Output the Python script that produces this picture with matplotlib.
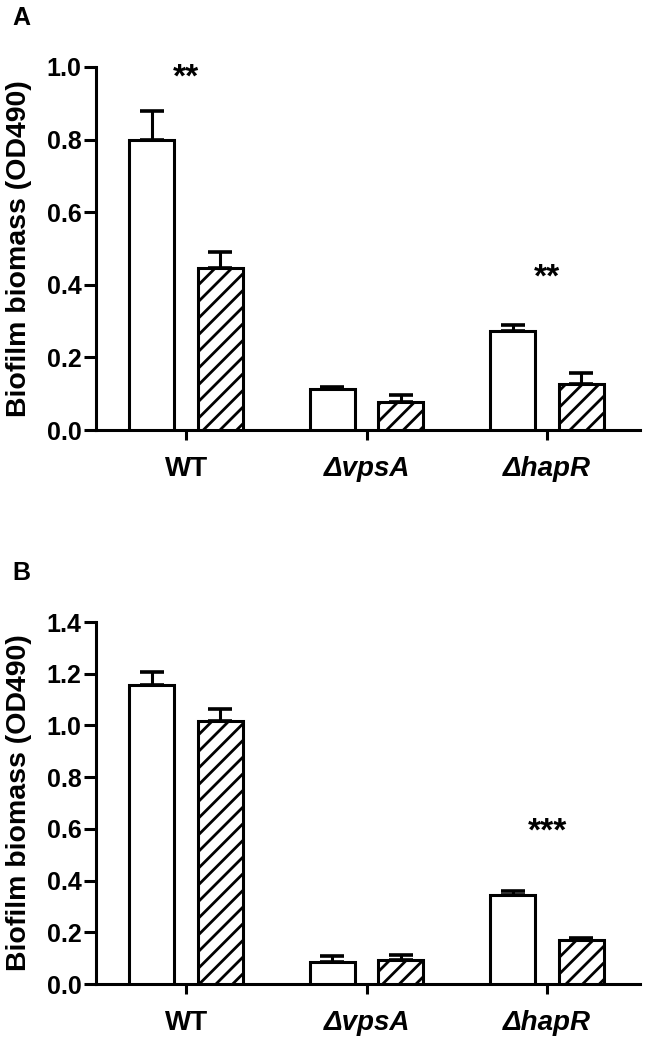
import numpy as np
import matplotlib
matplotlib.use('Agg')
import matplotlib.pyplot as plt

plt.rcParams['font.family'] = ['Liberation Sans', 'DejaVu Sans']
plt.rcParams['font.weight'] = 'bold'
plt.rcParams['hatch.linewidth'] = 2.0

strains = ['WT', '\u0394vpsA', '\u0394hapR']

# panel A
a_open = [0.80, 0.112, 0.273]
a_open_err = [0.079, 0.007, 0.015]
a_hatch = [0.447, 0.076, 0.128]
a_hatch_err = [0.042, 0.020, 0.028]
a_stars = ['**', '', '**']
a_star_y = [0.945, 0, 0.395]

# panel B
b_open = [1.158, 0.085, 0.344]
b_open_err = [0.048, 0.024, 0.016]
b_hatch = [1.017, 0.093, 0.171]
b_hatch_err = [0.045, 0.021, 0.008]
b_stars = ['', '', '***']
b_star_y = [0, 0, 0.555]

fig = plt.figure(figsize=(6.47, 10.47), dpi=100)


def panel(rect, opn, opn_err, hat, hat_err, stars, star_y, ymax, label, label_y):
    ax = fig.add_axes(rect)
    x = np.arange(len(strains))
    w = 0.25
    off = 0.19
    for xs, vals, errs, hatch in [(x - off, opn, opn_err, None), (x + off, hat, hat_err, '//')]:
        ax.bar(xs, vals, w, color='white', edgecolor='black', linewidth=2.2,
               hatch=hatch, zorder=3)
        ax.errorbar(xs, vals, yerr=[np.zeros(len(vals)), errs], fmt='none',
                    ecolor='black', elinewidth=2.2, capsize=8.5, capthick=2.6, zorder=2)
    for xi, s, sy in zip(x, stars, star_y):
        if s:
            ax.text(xi, sy, s, ha='center', va='baseline', fontsize=24, fontweight='bold')
    ax.set_xlim(-0.5, 2.515)
    ax.set_ylim(0, ymax)
    ticks = np.round(np.arange(0, ymax + 0.01, 0.2), 1)
    ax.set_yticks(ticks)
    ax.set_yticklabels(['%.1f' % v for v in ticks])
    ax.set_xticks(x)
    ax.set_xticklabels(strains, fontsize=20)
    for t in ax.get_xticklabels()[1:]:
        t.set_fontstyle('italic')
    ax.spines['top'].set_visible(False)
    ax.spines['right'].set_visible(False)
    for sp in ['left', 'bottom']:
        ax.spines[sp].set_linewidth(2.2)
    ax.tick_params(axis='y', direction='out', length=8.6, width=2.2, labelsize=18, pad=2)
    ax.tick_params(axis='x', direction='out', length=7, width=2.2, pad=12)
    ax.set_ylabel('Biofilm biomass (OD490)', fontsize=20.5, fontweight='bold')
    ax.yaxis.set_label_coords(-0.118, 0.5)
    fig.text(21.7 / 647, 1 - label_y / 1047, label, fontsize=18, fontweight='bold',
             ha='center', va='center')
    return ax


panel([96 / 647, 1 - 430 / 1047, 544 / 647, 363 / 1047],
      a_open, a_open_err, a_hatch, a_hatch_err, a_stars, a_star_y, 1.0, 'A', 18)
panel([96 / 647, 1 - 984 / 1047, 544 / 647, 362 / 1047],
      b_open, b_open_err, b_hatch, b_hatch_err, b_stars, b_star_y, 1.4, 'B', 573)

fig.savefig('out.png', dpi=100)
